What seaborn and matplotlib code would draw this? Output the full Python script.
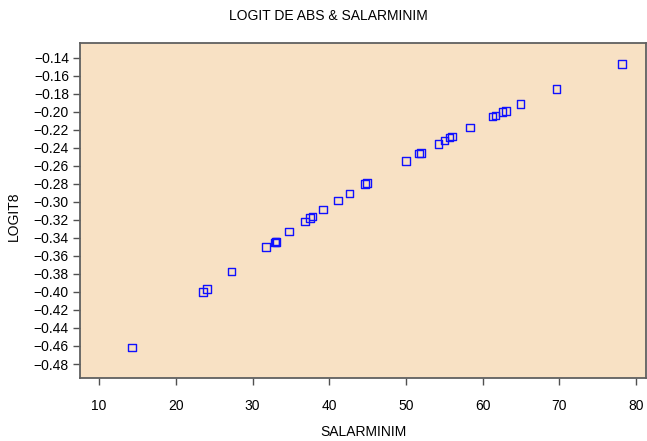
import matplotlib
matplotlib.use("Agg")
import matplotlib.pyplot as plt
import seaborn as sns
import pandas as pd
from matplotlib import font_manager

salarminim = [14.26, 23.56, 24.04, 27.25, 31.77, 32.90, 33.00, 33.10, 34.77,
              36.86, 37.50, 37.80, 39.20, 41.16, 42.63, 44.68, 44.90, 50.03,
              51.72, 51.98, 54.24, 55.02, 55.67, 56.02, 58.37, 61.28, 61.67,
              62.58, 63.02, 64.93, 69.62, 78.15]
logit8 = [-0.4618, -0.4000, -0.3970, -0.3773, -0.3500, -0.3450, -0.3440, -0.3445,
          -0.3330, -0.3220, -0.3178, -0.3164, -0.3087, -0.2984, -0.2906, -0.2799,
          -0.2791, -0.2544, -0.2463, -0.2455, -0.2356, -0.2319, -0.2286, -0.2275,
          -0.2175, -0.2053, -0.2042, -0.2005, -0.1990, -0.1913, -0.1747, -0.1473]
xticks = [10, 20, 30, 40, 50, 60, 70, 80]
yticks = [-0.14, -0.16, -0.18, -0.20, -0.22, -0.24, -0.26, -0.28, -0.30, -0.32,
          -0.34, -0.36, -0.38, -0.40, -0.42, -0.44, -0.46, -0.48]

df = pd.DataFrame({"SALARMINIM": salarminim, "LOGIT8": logit8})

sns.set_style("ticks")
names = {f.name for f in font_manager.fontManager.ttflist}
fam = ["Liberation Sans Narrow", "Liberation Sans", "DejaVu Sans"]
fam = [f for f in fam if f in names] or ["DejaVu Sans"]
plt.rcParams["font.family"] = fam
plt.rcParams["text.color"] = "black"

fig = plt.figure(figsize=(6.47, 4.41), dpi=100)
ax = fig.add_axes([80/647, 1-377.7/441, 566/647, (377.7-43)/441])
ax.set_facecolor("#F8E1C4")

sns.scatterplot(data=df, x="SALARMINIM", y="LOGIT8", ax=ax, marker="s", s=30,
                facecolor="none", edgecolor="#1010FF", linewidth=1.0, legend=False)

ax.set_xlim(7.5, 81.3)
ax.set_ylim(-0.4952, -0.1237)
ax.set_xticks(xticks)
ax.set_xticklabels([str(t) for t in xticks])
ax.set_yticks(yticks)
ax.set_yticklabels(["\u2212" + f"{abs(t):.2f}" for t in yticks])
ax.tick_params(axis="both", direction="out", length=5, width=1, color="#505050",
               labelsize=10, labelcolor="black", pad=3)
ax.tick_params(axis="x", pad=10)
for side in ["left", "top", "bottom", "right"]:
    ax.spines[side].set_color("#606060")
    ax.spines[side].set_linewidth(1.3)
ax.set_xlabel("")
ax.set_ylabel("")

fig.text(0.508, 1-16/441, "LOGIT DE ABS & SALARMINIM", ha="center", va="center",
         fontsize=10, color="black")
fig.text(363/647, 1-432/441, "SALARMINIM", ha="center", va="center",
         fontsize=10, color="black")
fig.text(14/647, 1-216/441, "LOGIT8", ha="center", va="center", rotation=90,
         fontsize=10, color="black")

fig.savefig("out.png", dpi=100)
